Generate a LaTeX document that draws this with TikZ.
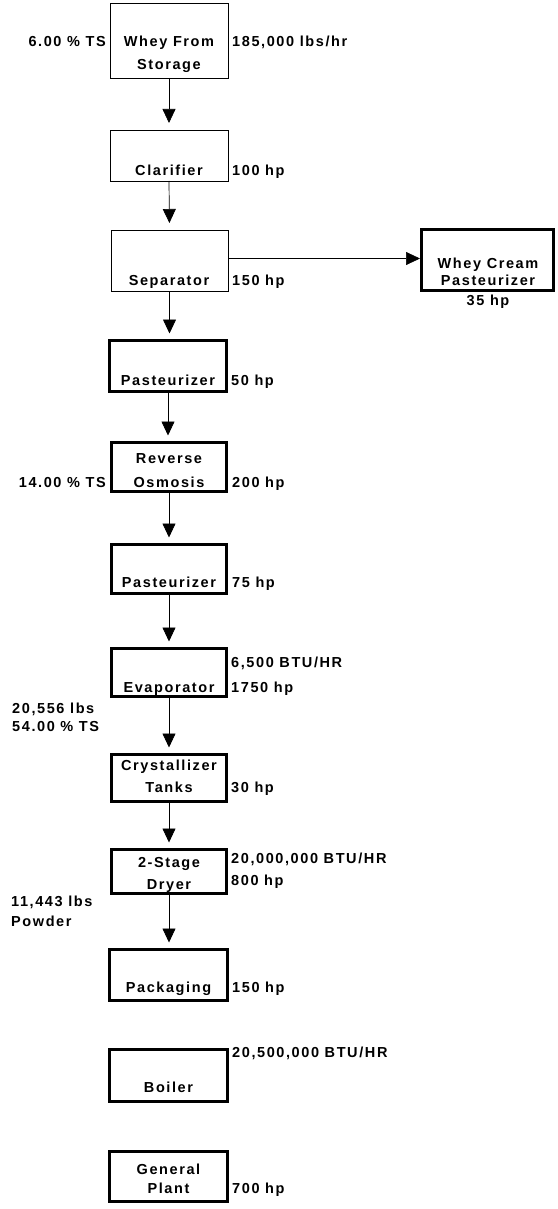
\documentclass[tikz,border=0pt]{standalone}
\usepackage{fontspec}
\newfontfamily\lbl[LetterSpace=11]{Liberation Sans Bold}
\usetikzlibrary{arrows.meta}
\begin{document}
\begin{tikzpicture}[x=1pt,y=-1pt,
  thinbox/.style={draw, line width=0.8pt, inner sep=0pt, outer sep=0pt},
  thickbox/.style={draw, line width=3pt, inner sep=0pt, outer sep=0pt},
  txt/.style={font=\lbl\fontsize{14.5}{16}\selectfont, inner sep=0pt, anchor=base},
  rtxt/.style={txt, anchor=base west},
  ltxt/.style={txt, anchor=base east},
  flow/.style={line width=0.7pt, -{Triangle[width=13pt,length=14pt]}, shorten >=7pt}]
\useasboundingbox (0,0) rectangle (557,1209);
% boxes
\node[thinbox, minimum width=118pt, minimum height=75pt] (b1) at (169,40.5) {};
\node[thinbox, minimum width=118pt, minimum height=51pt] (b2) at (169,155.5) {};
\node[thinbox, minimum width=117pt, minimum height=61pt] (b3) at (169.5,260.5) {};
\node[thickbox, minimum width=132pt, minimum height=61pt] (b4) at (487.5,260) {};
\node[thickbox, minimum width=117pt, minimum height=51pt] (b5) at (168,366) {};
\node[thickbox, minimum width=115pt, minimum height=49pt] (b6) at (169,467) {};
\node[thickbox, minimum width=115pt, minimum height=49pt] (b7) at (169,569) {};
\node[thickbox, minimum width=115pt, minimum height=48pt] (b8) at (169,672.5) {};
\node[thickbox, minimum width=115pt, minimum height=47pt] (b9) at (169,778) {};
\node[thickbox, minimum width=115pt, minimum height=44pt] (b10) at (169,871.5) {};
\node[thickbox, minimum width=118pt, minimum height=51pt] (b11) at (168.5,975) {};
\node[thickbox, minimum width=118pt, minimum height=52pt] (b12) at (168.5,1075.5) {};
\node[thickbox, minimum width=118pt, minimum height=50pt] (b13) at (168.5,1176.5) {};
% box texts
\node[txt] (t1a) at (169,47) {Whey From};
\node[txt] (t1b) at (169,70) {Storage};
\node[txt] (t2) at (169,176) {Clarifier};
\node[txt] (t3) at (169,285) {Separator};
\node[txt] (t4a) at (488,268) {Whey Cream};
\node[txt] (t4b) at (488,285) {Pasteurizer};
\node[txt] (t5) at (168,385) {Pasteurizer};
\node[txt] (t6a) at (169,463) {Reverse};
\node[txt] (t6b) at (169,487) {Osmosis};
\node[txt] (t7) at (169,587) {Pasteurizer};
\node[txt] (t8) at (169,692) {Evaporator};
\node[txt] (t9a) at (169,770) {Crystallizer};
\node[txt] (t9b) at (169,792) {Tanks};
\node[txt] (t10a) at (169,867) {2-Stage};
\node[txt] (t10b) at (169,889) {Dryer};
\node[txt] (t11) at (168.5,992) {Packaging};
\node[txt] (t12) at (168.5,1092) {Boiler};
\node[txt] (t13a) at (168.5,1174) {General};
\node[txt] (t13b) at (168.5,1193) {Plant};
% side labels
\node[ltxt] (l1) at (106,47) {6.00 \% TS};
\node[rtxt] (r1) at (232,47) {185,000 lbs/hr};
\node[rtxt] (r2) at (232,176) {100 hp};
\node[rtxt] (r3) at (232,285) {150 hp};
\node[txt] (r4) at (488,305) {35 hp};
\node[rtxt] (r5) at (231,385) {50 hp};
\node[ltxt] (l6) at (106,487) {14.00 \% TS};
\node[rtxt] (r6) at (232,487) {200 hp};
\node[rtxt] (r7) at (232,587) {75 hp};
\node[rtxt] (r8a) at (231,667) {6,500 BTU/HR};
\node[rtxt] (r8b) at (231,692) {1750 hp};
\node[rtxt] (l8a) at (12,713) {20,556 lbs};
\node[rtxt] (l8b) at (12,731) {54.00 \% TS};
\node[rtxt] (r9) at (231,792) {30 hp};
\node[rtxt] (r10a) at (231,863) {20,000,000 BTU/HR};
\node[rtxt] (r10b) at (231,885) {800 hp};
\node[rtxt] (l10a) at (11,906) {11,443 lbs};
\node[rtxt] (l10b) at (11,926) {Powder};
\node[rtxt] (r11) at (232,992) {150 hp};
\node[rtxt] (r12) at (232,1057) {20,500,000 BTU/HR};
\node[rtxt] (r13) at (232,1193) {700 hp};
% connectors
\draw[flow] (b1.south) -- (b2.north);
\draw[flow] (b2.south) -- (b3.north);
\draw[flow] (b3.south) -- (b3.south |- b5.north);
\draw[flow] (b5.south) -- (b5.south |- b6.north);
\draw[flow] (b6.south) -- (b7.north);
\draw[flow] (b7.south) -- (b8.north);
\draw[flow] (b8.south) -- (b9.north);
\draw[flow] (b9.south) -- (b10.north);
\draw[flow] (b10.south) -- (b10.south |- b11.north);
\draw[line width=0.7pt, -{Triangle[width=13pt,length=14pt]}, shorten >=1.5pt] ([yshift=2pt]b3.east) -- ([yshift=2pt]b3.east -| b4.west);
\end{tikzpicture}
\end{document}
